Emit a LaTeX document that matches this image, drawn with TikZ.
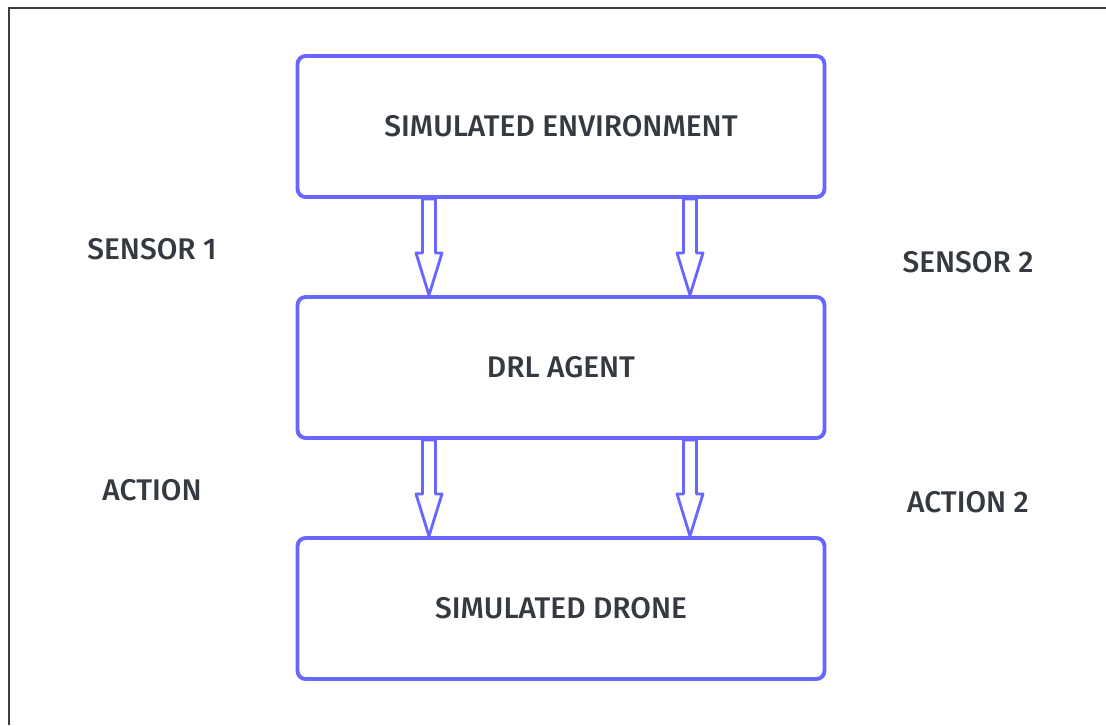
\documentclass[tikz,border=0pt]{standalone}
\usepackage{fontspec}
\setmainfont{Fira Sans}[UprightFont={* Medium}]
\usepackage{tikz}
\usetikzlibrary{calc,positioning}
\definecolor{Ink}{HTML}{343A40}
\definecolor{Frame}{HTML}{3A3D44}
\definecolor{Violet}{HTML}{6965FF}
\tikzset{
  block/.style={rounded corners=1.6mm,draw=Violet,fill=white,line width=2.2pt,minimum width=10.54cm,minimum height=2.82cm,align=center,font=\fontsize{17}{20}\selectfont,text=Ink},
  tag/.style={font=\fontsize{17}{20}\selectfont,text=Ink},
  hollow/.style={draw=Violet,line width=1.6pt,line join=round,fill=white},
  border/.style={draw=Frame,line width=1.4pt}
}
% hollow arrow from #1 down to #2
\newcommand\hollowarrow[2]{%
  \draw[hollow] let \p1=(#1), \p2=(#2) in
    (\x1-3.7pt,\y1) -- (\x1-3.7pt,\y2+24pt) -- (\x1-7.4pt,\y2+24pt) -- (\x1,\y2)
    -- (\x1+7.4pt,\y2+24pt) -- (\x1+3.7pt,\y2+24pt) -- (\x1+3.7pt,\y1) -- cycle;}

\begin{document}
\begin{tikzpicture}[x=0.02cm,y=-0.02cm]
  \useasboundingbox (0,0) rectangle (1106,725);
  \draw[border] (9,725) -- (9,8) -- (1106,8);
  \node[block] (env) at (561,126.5) {SIMULATED ENVIRONMENT};
  \node[block] (agent) at (561,367.5) {DRL AGENT};
  \node[block] (drone) at (561,608.5) {SIMULATED DRONE};
  \coordinate (s1a) at ($(env.south)+(-132,0)$);
  \coordinate (s1b) at ($(agent.north)+(-132,0)$);
  \coordinate (s2a) at ($(env.south)+(129,0)$);
  \coordinate (s2b) at ($(agent.north)+(129,0)$);
  \coordinate (a1a) at ($(agent.south)+(-132,0)$);
  \coordinate (a1b) at ($(drone.north)+(-132,0)$);
  \coordinate (a2a) at ($(agent.south)+(129,0)$);
  \coordinate (a2b) at ($(drone.north)+(129,0)$);
  \hollowarrow{s1a}{s1b}
  \hollowarrow{s2a}{s2b}
  \hollowarrow{a1a}{a1b}
  \hollowarrow{a2a}{a2b}
  \node[tag] (sensor1) at (152,249) {SENSOR 1};
  \node[tag] (sensor2) at (968,262) {SENSOR 2};
  \node[tag] (action1) at (152,490) {ACTION};
  \node[tag] (action2) at (968,502) {ACTION 2};
\end{tikzpicture}
\end{document}
